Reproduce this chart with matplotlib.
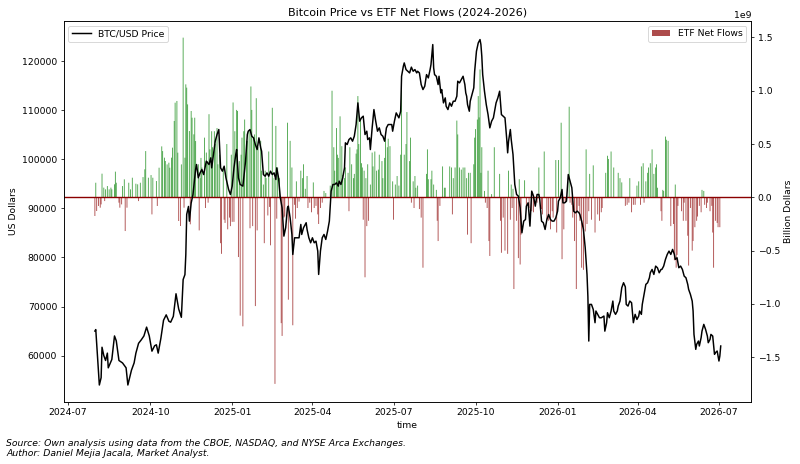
import matplotlib
matplotlib.use("Agg")
import matplotlib.pyplot as plt
import matplotlib.dates as mdates
import numpy as np
import pandas as pd

# BTC/USD (примерно)
price_dates = [
    "2024-07-31",
    "2024-08-01", "2024-08-05", "2024-08-07", "2024-08-08", "2024-08-10", "2024-08-12", "2024-08-14", "2024-08-15", "2024-08-19", "2024-08-22", "2024-08-24", "2024-08-27", "2024-08-31",
    "2024-09-04", "2024-09-06", "2024-09-10", "2024-09-13", "2024-09-15", "2024-09-18", "2024-09-21", "2024-09-24", "2024-09-27", "2024-09-30",
    "2024-10-03", "2024-10-06", "2024-10-08", "2024-10-10", "2024-10-13", "2024-10-16", "2024-10-19", "2024-10-22", "2024-10-24", "2024-10-27", "2024-10-30",
    "2024-11-02", "2024-11-05", "2024-11-07", "2024-11-09", "2024-11-10", "2024-11-11", "2024-11-13", "2024-11-14", "2024-11-16", "2024-11-18", "2024-11-21", "2024-11-22", "2024-11-24", "2024-11-26", "2024-11-28", "2024-11-30",
    "2024-12-03", "2024-12-06", "2024-12-08", "2024-12-09", "2024-12-11", "2024-12-13", "2024-12-15", "2024-12-17", "2024-12-19", "2024-12-21", "2024-12-23", "2024-12-25", "2024-12-28", "2024-12-30",
    "2025-01-01", "2025-01-03", "2025-01-05", "2025-01-06", "2025-01-08", "2025-01-10", "2025-01-13", "2025-01-16", "2025-01-18", "2025-01-19", "2025-01-21", "2025-01-23", "2025-01-25", "2025-01-27", "2025-01-29", "2025-01-31",
    "2025-02-02", "2025-02-03", "2025-02-05", "2025-02-07", "2025-02-09", "2025-02-11", "2025-02-13", "2025-02-15", "2025-02-17", "2025-02-19", "2025-02-20", "2025-02-22", "2025-02-24", "2025-02-26", "2025-02-28",
    "2025-03-02", "2025-03-04", "2025-03-05", "2025-03-07", "2025-03-09", "2025-03-10", "2025-03-12", "2025-03-14", "2025-03-17", "2025-03-19", "2025-03-20", "2025-03-22", "2025-03-25", "2025-03-26", "2025-03-28", "2025-03-30",
    "2025-04-01", "2025-04-03", "2025-04-05", "2025-04-07", "2025-04-08", "2025-04-10", "2025-04-12", "2025-04-14", "2025-04-16", "2025-04-18", "2025-04-20", "2025-04-22", "2025-04-24", "2025-04-26", "2025-04-28", "2025-04-30",
    "2025-05-01", "2025-05-03", "2025-05-05", "2025-05-07", "2025-05-08", "2025-05-10", "2025-05-12", "2025-05-14", "2025-05-16", "2025-05-18", "2025-05-20", "2025-05-22", "2025-05-24", "2025-05-26", "2025-05-28", "2025-05-30",
    "2025-06-01", "2025-06-02", "2025-06-04", "2025-06-05", "2025-06-07", "2025-06-09", "2025-06-11", "2025-06-13", "2025-06-15", "2025-06-17", "2025-06-19", "2025-06-21", "2025-06-23", "2025-06-25", "2025-06-27", "2025-06-29", "2025-06-30",
    "2025-07-02", "2025-07-04", "2025-07-06", "2025-07-07", "2025-07-09", "2025-07-10", "2025-07-12", "2025-07-13", "2025-07-15", "2025-07-17", "2025-07-19", "2025-07-21", "2025-07-23", "2025-07-25", "2025-07-27", "2025-07-28", "2025-07-30",
    "2025-08-01", "2025-08-03", "2025-08-05", "2025-08-07", "2025-08-09", "2025-08-11", "2025-08-12", "2025-08-14", "2025-08-15", "2025-08-16", "2025-08-18", "2025-08-20", "2025-08-21", "2025-08-23", "2025-08-24", "2025-08-26", "2025-08-28", "2025-08-29", "2025-08-31",
    "2025-09-02", "2025-09-04", "2025-09-06", "2025-09-08", "2025-09-10", "2025-09-11", "2025-09-13", "2025-09-15", "2025-09-17", "2025-09-19", "2025-09-20", "2025-09-21", "2025-09-22", "2025-09-24", "2025-09-25", "2025-09-27", "2025-09-29", "2025-09-30",
    "2025-10-02", "2025-10-04", "2025-10-06", "2025-10-07", "2025-10-08", "2025-10-09", "2025-10-11", "2025-10-13", "2025-10-15", "2025-10-17", "2025-10-19", "2025-10-21", "2025-10-23", "2025-10-24", "2025-10-26", "2025-10-28", "2025-10-30",
    "2025-11-01", "2025-11-03", "2025-11-05", "2025-11-06", "2025-11-07", "2025-11-09", "2025-11-10", "2025-11-12", "2025-11-14", "2025-11-16", "2025-11-18", "2025-11-20", "2025-11-22", "2025-11-24", "2025-11-26", "2025-11-27", "2025-11-29",
    "2025-12-01", "2025-12-03", "2025-12-05", "2025-12-07", "2025-12-09", "2025-12-11", "2025-12-12", "2025-12-14", "2025-12-16", "2025-12-18", "2025-12-20", "2025-12-22", "2025-12-24", "2025-12-26", "2025-12-28", "2025-12-30",
    "2026-01-01", "2026-01-02", "2026-01-04", "2026-01-06", "2026-01-07", "2026-01-09", "2026-01-11", "2026-01-13", "2026-01-15", "2026-01-17", "2026-01-19", "2026-01-21", "2026-01-23", "2026-01-25", "2026-01-26", "2026-01-28", "2026-01-30",
    "2026-02-01", "2026-02-03", "2026-02-04", "2026-02-05", "2026-02-06", "2026-02-08", "2026-02-10", "2026-02-12", "2026-02-13", "2026-02-15", "2026-02-17", "2026-02-19", "2026-02-22", "2026-02-23", "2026-02-25", "2026-02-26", "2026-02-28",
    "2026-03-02", "2026-03-04", "2026-03-05", "2026-03-07", "2026-03-09", "2026-03-10", "2026-03-12", "2026-03-14", "2026-03-16", "2026-03-18", "2026-03-19", "2026-03-21", "2026-03-23", "2026-03-25", "2026-03-27", "2026-03-29", "2026-03-31",
    "2026-04-02", "2026-04-03", "2026-04-05", "2026-04-06", "2026-04-08", "2026-04-10", "2026-04-12", "2026-04-14", "2026-04-15", "2026-04-17", "2026-04-19", "2026-04-21", "2026-04-23", "2026-04-25", "2026-04-27", "2026-04-28", "2026-04-30",
    "2026-05-02", "2026-05-04", "2026-05-06", "2026-05-08", "2026-05-10", "2026-05-12", "2026-05-13", "2026-05-15", "2026-05-17", "2026-05-19", "2026-05-21", "2026-05-23", "2026-05-25", "2026-05-27", "2026-05-28", "2026-05-30",
    "2026-06-01", "2026-06-02", "2026-06-03", "2026-06-05", "2026-06-06", "2026-06-08", "2026-06-09", "2026-06-11", "2026-06-12", "2026-06-14", "2026-06-16", "2026-06-18", "2026-06-19", "2026-06-21", "2026-06-22", "2026-06-24", "2026-06-26", "2026-06-27", "2026-06-29",
    "2026-07-01", "2026-07-02", "2026-07-03",
]
price_usd = [
    65000,
    65300, 54000, 55500, 61700, 60000, 59000, 60500, 57500, 59200, 64000, 63000, 59000, 58500,
    57500, 54000, 57000, 58500, 60500, 62500, 63200, 64000, 65800, 64000,
    60900, 62000, 62200, 60500, 63500, 67200, 68300, 67000, 66800, 68000, 72600,
    69500, 67800, 75500, 76500, 80600, 88800, 90400, 87400, 91100, 92800, 98000, 98950, 96240, 97250, 97930, 96900,
    99630, 98950, 100310, 98270, 100990, 103700, 105060, 106080, 98270, 97590, 98610, 96240, 93860, 92840,
    94540, 98270, 100990, 102000, 96240, 94880, 94540, 99630, 105060, 105740, 106080, 104720, 104380, 103020, 102000, 104380,
    102340, 101670, 96900, 96570, 97250, 96570, 97590, 96900, 97250, 95890, 98270, 96240, 92160, 90120, 84350,
    86050, 90120, 90460, 88080, 84690, 80610, 84010, 84010, 84010, 86730, 84690, 86050, 87080, 85710, 84010, 82990,
    84010, 82990, 83330, 81300, 76540, 81300, 84010, 84690, 83670, 85370, 87410, 93520, 94880, 94880, 95220, 94540,
    95560, 94880, 96240, 98270, 103370, 103020, 104040, 104380, 103700, 104720, 107100, 111510, 107780, 108460, 108800, 105060,
    105740, 104040, 104380, 102000, 106420, 110150, 107780, 105740, 106420, 105060, 104720, 103700, 106420, 107100, 107100, 107100, 105740,
    107780, 109470, 108800, 108460, 109810, 116940, 118980, 119660, 118300, 117960, 117620, 118800, 117960, 118300, 117620, 117960, 117620,
    115250, 114230, 114910, 117280, 116600, 118300, 119320, 123400, 118640, 117280, 116940, 115250, 116940, 113550, 114230, 111510, 112530, 110830, 110150,
    111510, 110830, 111850, 111850, 112870, 115930, 115590, 116260, 116940, 115250, 113550, 112870, 111170, 109810, 111850, 113210, 114570, 117960,
    122040, 123730, 124420, 123400, 121020, 117280, 113890, 111170, 109130, 106420, 107780, 108460, 110490, 111510, 112530, 113890, 109130,
    108800, 108460, 104040, 101330, 103700, 106080, 104040, 100990, 94880, 92840, 92500, 90120, 85030, 87410, 87740, 90460, 91140,
    86390, 93520, 92500, 90460, 92840, 92840, 91820, 87410, 87080, 85710, 87740, 88760, 87740, 87410, 87410, 88080,
    89440, 91480, 92160, 93860, 91140, 91140, 91480, 96910, 95560, 94200, 89440, 89100, 89440, 89100, 88760, 87410, 85710,
    81970, 76540, 72000, 62960, 70430, 70430, 69410, 66700, 69080, 68400, 67710, 67710, 68060, 64980, 66700, 68740, 67710,
    69080, 71110, 69080, 68400, 69080, 70090, 71110, 73830, 74850, 74000, 70430, 70090, 71110, 70770, 66700, 68400, 67370,
    68060, 69080, 68400, 70430, 72470, 74510, 74850, 75860, 76880, 77560, 76540, 78240, 77900, 76880, 77560, 77560, 78240,
    79600, 80620, 81300, 80620, 81640, 80620, 79600, 79940, 77900, 78240, 77560, 76200, 75860, 74510, 73490, 72470,
    71110, 69080, 64320, 61270, 62290, 62960, 61950, 63650, 65000, 66360, 65340, 63980, 62620, 63300, 64320, 63980, 60250, 60590, 60930,
    58890, 59910, 61950,
]

# Чистые потоки ETF, млрд долларов
flow_dates = [
    "2024-07-31",
    "2024-08-01", "2024-08-02", "2024-08-04", "2024-08-06", "2024-08-07", "2024-08-08", "2024-08-10", "2024-08-11", "2024-08-12", "2024-08-14", "2024-08-16", "2024-08-18", "2024-08-19", "2024-08-22", "2024-08-23", "2024-08-24", "2024-08-27", "2024-08-28", "2024-08-30", "2024-08-31",
    "2024-09-02", "2024-09-03", "2024-09-05", "2024-09-07", "2024-09-09", "2024-09-11", "2024-09-15", "2024-09-17", "2024-09-18", "2024-09-20", "2024-09-23", "2024-09-25", "2024-09-26", "2024-09-29",
    "2024-10-02", "2024-10-03", "2024-10-04", "2024-10-08", "2024-10-09", "2024-10-11", "2024-10-14", "2024-10-15", "2024-10-17", "2024-10-18", "2024-10-20", "2024-10-22", "2024-10-23", "2024-10-25", "2024-10-26", "2024-10-28", "2024-10-29", "2024-10-31",
    "2024-11-01", "2024-11-02", "2024-11-04", "2024-11-05", "2024-11-07", "2024-11-08", "2024-11-09", "2024-11-10", "2024-11-11", "2024-11-12", "2024-11-14", "2024-11-15", "2024-11-16", "2024-11-17", "2024-11-19", "2024-11-20", "2024-11-21", "2024-11-24", "2024-11-25", "2024-11-26", "2024-11-27", "2024-11-28",
    "2024-12-01", "2024-12-02", "2024-12-03", "2024-12-04", "2024-12-05", "2024-12-06", "2024-12-07", "2024-12-09", "2024-12-10", "2024-12-12", "2024-12-13", "2024-12-15", "2024-12-16", "2024-12-18", "2024-12-19", "2024-12-20", "2024-12-22", "2024-12-23", "2024-12-24", "2024-12-26", "2024-12-27", "2024-12-29", "2024-12-30", "2024-12-31",
    "2025-01-01", "2025-01-02", "2025-01-03", "2025-01-04", "2025-01-06", "2025-01-07", "2025-01-08", "2025-01-09", "2025-01-10", "2025-01-11", "2025-01-12", "2025-01-13", "2025-01-14", "2025-01-15", "2025-01-17", "2025-01-18", "2025-01-20", "2025-01-21", "2025-01-22", "2025-01-23", "2025-01-24", "2025-01-25", "2025-01-26", "2025-01-27", "2025-01-28", "2025-01-29", "2025-01-30",
    "2025-02-02", "2025-02-03", "2025-02-05", "2025-02-06", "2025-02-07", "2025-02-08", "2025-02-10", "2025-02-11", "2025-02-12", "2025-02-13", "2025-02-15", "2025-02-17", "2025-02-18", "2025-02-19", "2025-02-20", "2025-02-21", "2025-02-23", "2025-02-25", "2025-02-26", "2025-02-28",
    "2025-03-01", "2025-03-04", "2025-03-05", "2025-03-07", "2025-03-09", "2025-03-10", "2025-03-12", "2025-03-13", "2025-03-14", "2025-03-15", "2025-03-17", "2025-03-19", "2025-03-21", "2025-03-22", "2025-03-24", "2025-03-26", "2025-03-27", "2025-03-29", "2025-03-31",
    "2025-04-02", "2025-04-03", "2025-04-05", "2025-04-07", "2025-04-08", "2025-04-10", "2025-04-12", "2025-04-14", "2025-04-16", "2025-04-21", "2025-04-23", "2025-04-25", "2025-04-26", "2025-04-28", "2025-04-29", "2025-04-30",
    "2025-05-02", "2025-05-04", "2025-05-05", "2025-05-07", "2025-05-08", "2025-05-11", "2025-05-12", "2025-05-13", "2025-05-15", "2025-05-17", "2025-05-18", "2025-05-20", "2025-05-21", "2025-05-22", "2025-05-23", "2025-05-25", "2025-05-26", "2025-05-27", "2025-05-28", "2025-05-29", "2025-05-30", "2025-05-31",
    "2025-06-01", "2025-06-02", "2025-06-03", "2025-06-05", "2025-06-07", "2025-06-08", "2025-06-10", "2025-06-12", "2025-06-14", "2025-06-15", "2025-06-18", "2025-06-19", "2025-06-21", "2025-06-22", "2025-06-24", "2025-06-25", "2025-06-27", "2025-06-30",
    "2025-07-01", "2025-07-03", "2025-07-05", "2025-07-07", "2025-07-09", "2025-07-10", "2025-07-13", "2025-07-15", "2025-07-16", "2025-07-19", "2025-07-20", "2025-07-21", "2025-07-23", "2025-07-24", "2025-07-25", "2025-07-26", "2025-07-28", "2025-07-30",
    "2025-08-01", "2025-08-03", "2025-08-07", "2025-08-08", "2025-08-09", "2025-08-12", "2025-08-13", "2025-08-15", "2025-08-18", "2025-08-19", "2025-08-20", "2025-08-22", "2025-08-25", "2025-08-27", "2025-08-28",
    "2025-09-02", "2025-09-04", "2025-09-05", "2025-09-06", "2025-09-08", "2025-09-10", "2025-09-11", "2025-09-13", "2025-09-15", "2025-09-17", "2025-09-19", "2025-09-21", "2025-09-22", "2025-09-23", "2025-09-25", "2025-09-26", "2025-09-29", "2025-09-30",
    "2025-10-01", "2025-10-03", "2025-10-04", "2025-10-05", "2025-10-06", "2025-10-07", "2025-10-08", "2025-10-11", "2025-10-12", "2025-10-14", "2025-10-15", "2025-10-16", "2025-10-17", "2025-10-19", "2025-10-22", "2025-10-28", "2025-10-29", "2025-10-30",
    "2025-11-01", "2025-11-03", "2025-11-06", "2025-11-07", "2025-11-09", "2025-11-10", "2025-11-11", "2025-11-12", "2025-11-13", "2025-11-16", "2025-11-18", "2025-11-19", "2025-11-20", "2025-11-21", "2025-11-25", "2025-11-27", "2025-11-30",
    "2025-12-03", "2025-12-05", "2025-12-09", "2025-12-11", "2025-12-14", "2025-12-15", "2025-12-17", "2025-12-20", "2025-12-22", "2025-12-24", "2025-12-26", "2025-12-27", "2025-12-30", "2025-12-31",
    "2026-01-02", "2026-01-05", "2026-01-06", "2026-01-08", "2026-01-10", "2026-01-14", "2026-01-15", "2026-01-17", "2026-01-18", "2026-01-20", "2026-01-22", "2026-01-23", "2026-01-25", "2026-01-26", "2026-01-28", "2026-01-30",
    "2026-02-01", "2026-02-02", "2026-02-03", "2026-02-05", "2026-02-06", "2026-02-08", "2026-02-10", "2026-02-12", "2026-02-15", "2026-02-17", "2026-02-19", "2026-02-20", "2026-02-24", "2026-02-26", "2026-02-27",
    "2026-03-02", "2026-03-05", "2026-03-10", "2026-03-12", "2026-03-14", "2026-03-18", "2026-03-20", "2026-03-22", "2026-03-23", "2026-03-25", "2026-03-27", "2026-03-29", "2026-03-31",
    "2026-04-02", "2026-04-04", "2026-04-05", "2026-04-07", "2026-04-08", "2026-04-10", "2026-04-12", "2026-04-13", "2026-04-15", "2026-04-17", "2026-04-19", "2026-04-21", "2026-04-22", "2026-04-23", "2026-04-27", "2026-04-28", "2026-04-29", "2026-04-30",
    "2026-05-02", "2026-05-03", "2026-05-05", "2026-05-08", "2026-05-11", "2026-05-12", "2026-05-13", "2026-05-14", "2026-05-15", "2026-05-16", "2026-05-20", "2026-05-22", "2026-05-23", "2026-05-25", "2026-05-27", "2026-05-28", "2026-05-30",
    "2026-06-01", "2026-06-02", "2026-06-04", "2026-06-06", "2026-06-07", "2026-06-09", "2026-06-11", "2026-06-12", "2026-06-14", "2026-06-15", "2026-06-17", "2026-06-18", "2026-06-21", "2026-06-23", "2026-06-24", "2026-06-25", "2026-06-27", "2026-06-29", "2026-06-30",
    "2026-07-02",
]
flow_bn = [
    -0.175,
    0.137, -0.128, -0.081, -0.097, -0.066, 0.222, 0.091, -0.035, 0.075, 0.106, 0.075, 0.091, 0.075, 0.122, 0.241, 0.137, -0.05, -0.097, -0.066, 0.106,
    0.169, -0.316, -0.097, 0.137, 0.075, 0.184, 0.128, 0.122, -0.035, 0.137, 0.19, 0.263, 0.434, 0.184,
    0.209, -0.16, 0.184, 0.153, -0.081, 0.278, 0.478, 0.434, 0.372, 0.341, 0.309, 0.325, 0.278, 0.372, 0.466, 0.716, 0.888, 0.904,
    0.419, -0.222, -0.269, 0.309, 1.498, -0.097, 0.372, 1.06, 1.029, 0.872, 0.622, -0.253, 0.81, 0.747, 0.591, 0.747, 0.528, 0.31, -0.31, 0.18, 0.37, 0.28,
    0.56, -0.10, 0.42, 0.34, -0.05, 0.78, 0.45, 0.62, 0.47, 0.62, 0.50, 0.65, 0.31, 0.40, -0.43, -0.53, 0.28, -0.21, -0.24, 0.50, -0.30, -0.19, -0.27, 0.40,
    -0.23, 0.89, -0.23, 0.62, 0.82, 0.81, -0.56, 0.34, -1.11, 0.40, 0.56, -1.21, 0.62, 0.73, 0.53, 0.53, 0.62, -0.29, 1.04, 0.82, -0.27, 0.56, 0.59, -1.02, 0.93, -0.31, 0.47,
    0.53, 0.25, 0.12, -0.43, 0.25, 0.18, -0.17, 0.43, -0.09, -0.45, 0.84, 0.18, -1.75, 0.67, -0.20, 0.28, 0.18, -1.18, -1.30, -0.19,
    -0.18, 0.70, -0.96, 0.53, 0.28, -1.20, -0.07, -0.20, 0.15, -0.10, -0.04, 0.25, 0.18, 0.31, 0.08, 0.20, -0.10, -0.05, -0.14,
    0.14, -0.10, -0.08, -0.16, -0.25, -0.10, -0.05, 0.06, 0.04, 0.11, 1.00, 0.47, 0.25, 0.65, 0.40, 0.37,
    0.76, 0.48, 0.21, 0.18, 0.28, 0.23, -0.13, 0.47, 0.31, 0.18, 0.22, 0.41, 0.45, 0.95, 0.50, 0.73, 0.32, 0.28, -0.21, 0.25, -0.75, 0.18,
    -0.27, 0.31, -0.22, 0.12, 0.42, 0.29, 0.43, 0.25, 0.26, 0.40, 0.34, 0.18, 0.37, 0.58, 0.47, 0.55, 0.48, 0.15,
    -0.21, 0.12, 0.20, 0.11, 0.40, 1.01, 0.40, 0.50, 0.80, 0.34, 0.56, -0.05, 0.15, -0.10, 0.20, 0.09, 0.11, -0.11,
    -0.19, -0.66, 0.22, 0.45, 0.17, 0.17, 0.25, 0.12, 0.07, -0.22, -0.41, -0.08, 0.29, 0.09, 0.09,
    0.29, 0.28, -0.16, 0.18, 0.28, 0.72, 0.59, 0.28, 0.26, 0.28, 0.28, 0.18, -0.35, 0.23, 0.23, -0.43, 0.31, 0.56,
    0.64, 0.73, 0.95, 0.75, 1.20, 0.23, 0.47, 0.06, -0.05, -0.10, 0.25, -0.41, -0.55, 0.03, 0.47, 0.22, -0.22, -0.52,
    -0.19, -0.50, -0.53, 0.25, -0.21, 0.12, -0.10, 0.08, -0.86, -0.22, -0.57, 0.17, -0.63, -0.35, 0.16, -0.11, -0.10,
    -0.13, -0.14, -0.05, 0.28, -0.11, -0.16, 0.43, -0.21, -0.22, -0.30, -0.13, -0.19, 0.35, -0.33,
    0.35, 0.70, -0.58, -0.30, -0.05, 0.85, -0.05, -0.07, -0.19, -0.41, -0.86, -0.13, -0.08, -0.22, -0.66, -0.68,
    -0.32, 0.45, -0.25, -0.13, 0.22, -0.21, 0.30, -0.33, -0.16, -0.22, -0.14, -0.10, 0.23, 0.39, 0.36,
    0.43, 0.28, 0.23, 0.18, 0.14, -0.08, -0.07, -0.05, 0.18, -0.14, -0.07, -0.07, 0.11,
    0.15, -0.07, 0.29, 0.32, -0.05, 0.15, 0.23, 0.28, 0.32, 0.45, 0.22, 0.28, 0.31, 0.09, -0.13, -0.22, 0.07, 0.06,
    0.57, 0.54, 0.53, -0.27, -0.25, -0.59, 0.12, -0.66, -0.54, -0.08, -0.13, -0.22, -0.05, -0.22, -0.36, -0.64, -0.10,
    -0.50, -0.41, -0.28, -0.22, -0.18, -0.08, -0.14, 0.07, 0.06, -0.07, -0.10, -0.05, -0.13, -0.08, -0.33, -0.66, -0.22, -0.24, -0.28,
    -0.28,
]

price_dates = pd.to_datetime(price_dates)
flow_dates = pd.to_datetime(flow_dates)
flows = np.array(flow_bn) * 1e9  # в долларах, ось справа покажет 1e9

fig, ax1 = plt.subplots(figsize=(12, 6.96), dpi=800 / 12)
fig.subplots_adjust(left=0.0796, right=0.9388, bottom=0.1343, top=0.9547)
ax2 = ax1.twinx()

colors = ['green' if v >= 0 else 'darkred' for v in flows]
bars = ax2.bar(flow_dates, flows, width=1.0, color=colors, alpha=0.7, label='ETF Net Flows')
for b in bars:
    b.set_snap(False)  # тонкие полупрозрачные столбики, как в оригинале
ax2.axhline(0, color='darkred', linewidth=1.5)
ax2.set_ylim(-1.917e9, 1.654e9)
ax2.set_ylabel('Billion Dollars')
ax2.legend(loc='upper right')

ax1.plot(price_dates, price_usd, color='black', linewidth=1.6, label='BTC/USD Price')
ax1.set_zorder(ax2.get_zorder() + 1)  # линия цены поверх столбцов
ax1.patch.set_visible(False)
ax1.set_ylim(50600, 128200)
ax1.set_xlim(pd.Timestamp('2024-06-26'), pd.Timestamp('2026-08-06'))
ax1.xaxis.set_major_locator(mdates.MonthLocator(bymonth=[1, 4, 7, 10]))
ax1.xaxis.set_major_formatter(mdates.DateFormatter('%Y-%m'))
ax1.set_xlabel('time')
ax1.set_ylabel('US Dollars')
ax1.set_title('Bitcoin Price vs ETF Net Flows (2024-2026)')
ax1.legend(loc='upper left')

fig.text(0.008, 0.012,
         "Source: Own analysis using data from the CBOE, NASDAQ, and NYSE Arca Exchanges.\n"
         "Author: Daniel Mejia Jacala, Market Analyst.",
         fontsize=10, style='italic', ha='left', va='bottom')

fig.savefig('out.png', dpi=800 / 12)
